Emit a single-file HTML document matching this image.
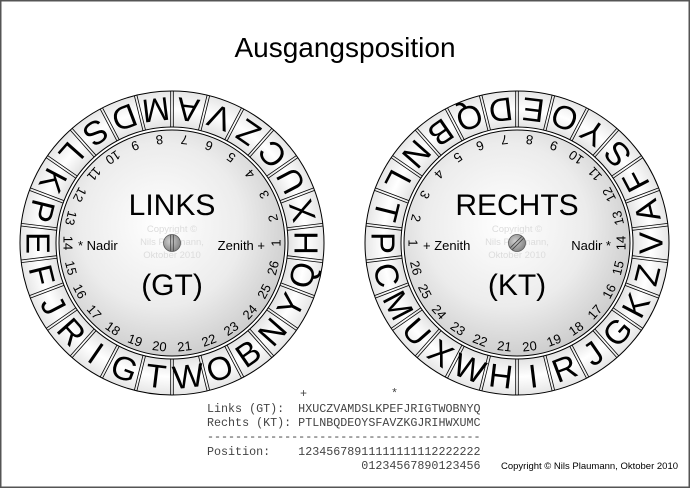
<!DOCTYPE html>
<html><head><meta charset="utf-8"><style>
html,body{margin:0;padding:0;background:#fff}
svg{display:block}
.L{font-family:"Liberation Sans",sans-serif;font-size:33px;fill:#000;text-anchor:middle;dominant-baseline:central}
.N{font-family:"Liberation Sans",sans-serif;font-size:13px;fill:#000;text-anchor:middle;dominant-baseline:central}
.S{font-family:"Liberation Sans",sans-serif;fill:#000}
.M{font-family:"Liberation Mono",monospace;font-size:11.7px;fill:#444;white-space:pre}
.C{font-family:"Liberation Sans",sans-serif;font-size:9.5px;fill:#dcdcdc;text-anchor:middle}
</style></head><body>
<svg width="690" height="488" viewBox="0 0 690 488" xmlns="http://www.w3.org/2000/svg">
<defs>
<radialGradient id="disc" cx="0.45" cy="0.42" r="0.6">
<stop offset="0" stop-color="#ffffff"/><stop offset="0.6" stop-color="#ececec"/><stop offset="1" stop-color="#cccccc"/></radialGradient>
<radialGradient id="ring" cx="0.5" cy="0.5" r="0.5">
<stop offset="0.76" stop-color="#e2e2e2"/><stop offset="0.88" stop-color="#ffffff"/><stop offset="1" stop-color="#e6e6e6"/></radialGradient>
<radialGradient id="screw" cx="0.4" cy="0.4" r="0.6">
<stop offset="0" stop-color="#d0d0d0"/><stop offset="1" stop-color="#888"/></radialGradient>
<g id="div" stroke="#000" stroke-width="0.8" fill="none">
<g transform="rotate(6.923)"><path d="M116 -1.3H152M116 1.3H152"/></g>
<g transform="rotate(20.769)"><path d="M116 -1.3H152M116 1.3H152"/></g>
<g transform="rotate(34.615)"><path d="M116 -1.3H152M116 1.3H152"/></g>
<g transform="rotate(48.462)"><path d="M116 -1.3H152M116 1.3H152"/></g>
<g transform="rotate(62.308)"><path d="M116 -1.3H152M116 1.3H152"/></g>
<g transform="rotate(76.154)"><path d="M116 -1.3H152M116 1.3H152"/></g>
<g transform="rotate(90)"><path d="M116 -1.3H152M116 1.3H152"/></g>
<g transform="rotate(103.846)"><path d="M116 -1.3H152M116 1.3H152"/></g>
<g transform="rotate(117.692)"><path d="M116 -1.3H152M116 1.3H152"/></g>
<g transform="rotate(131.538)"><path d="M116 -1.3H152M116 1.3H152"/></g>
<g transform="rotate(145.385)"><path d="M116 -1.3H152M116 1.3H152"/></g>
<g transform="rotate(159.231)"><path d="M116 -1.3H152M116 1.3H152"/></g>
<g transform="rotate(173.077)"><path d="M116 -1.3H152M116 1.3H152"/></g>
<g transform="rotate(186.923)"><path d="M116 -1.3H152M116 1.3H152"/></g>
<g transform="rotate(200.769)"><path d="M116 -1.3H152M116 1.3H152"/></g>
<g transform="rotate(214.615)"><path d="M116 -1.3H152M116 1.3H152"/></g>
<g transform="rotate(228.462)"><path d="M116 -1.3H152M116 1.3H152"/></g>
<g transform="rotate(242.308)"><path d="M116 -1.3H152M116 1.3H152"/></g>
<g transform="rotate(256.154)"><path d="M116 -1.3H152M116 1.3H152"/></g>
<g transform="rotate(270)"><path d="M116 -1.3H152M116 1.3H152"/></g>
<g transform="rotate(283.846)"><path d="M116 -1.3H152M116 1.3H152"/></g>
<g transform="rotate(297.692)"><path d="M116 -1.3H152M116 1.3H152"/></g>
<g transform="rotate(311.538)"><path d="M116 -1.3H152M116 1.3H152"/></g>
<g transform="rotate(325.385)"><path d="M116 -1.3H152M116 1.3H152"/></g>
<g transform="rotate(339.231)"><path d="M116 -1.3H152M116 1.3H152"/></g>
<g transform="rotate(353.077)"><path d="M116 -1.3H152M116 1.3H152"/></g>
</g>
<g id="base">
<circle r="152" fill="url(#ring)" stroke="#000" stroke-width="1"/>
<circle r="116" fill="#fff" stroke="#000" stroke-width="1"/>
<circle r="113" fill="url(#disc)" stroke="#000" stroke-width="1"/>
</g>
</defs>
<rect x="0.75" y="0.75" width="688.5" height="486.5" fill="#fff" stroke="#555" stroke-width="1.5"/>
<text x="345" y="57" class="S" font-size="28" text-anchor="middle">Ausgangsposition</text>

<!-- LEFT WHEEL -->
<g transform="translate(172,243)">
<use href="#base"/>
<use href="#div"/>
<text class="L" transform="rotate(0) translate(134 0) rotate(-90)">H</text>
<text class="L" transform="rotate(-13.846) translate(134 0) rotate(-90)">X</text>
<text class="L" transform="rotate(-27.692) translate(134 0) rotate(-90)">U</text>
<text class="L" transform="rotate(-41.538) translate(134 0) rotate(-90)">C</text>
<text class="L" transform="rotate(-55.385) translate(134 0) rotate(-90)">Z</text>
<text class="L" transform="rotate(-69.231) translate(134 0) rotate(-90)">V</text>
<text class="L" transform="rotate(-83.077) translate(134 0) rotate(-90)">A</text>
<text class="L" transform="rotate(-96.923) translate(134 0) rotate(-90)">M</text>
<text class="L" transform="rotate(-110.769) translate(134 0) rotate(-90)">D</text>
<text class="L" transform="rotate(-124.615) translate(134 0) rotate(-90)">S</text>
<text class="L" transform="rotate(-138.462) translate(134 0) rotate(-90)">L</text>
<text class="L" transform="rotate(-152.308) translate(134 0) rotate(-90)">K</text>
<text class="L" transform="rotate(-166.154) translate(134 0) rotate(-90)">P</text>
<text class="L" transform="rotate(-180) translate(134 0) rotate(-90)">E</text>
<text class="L" transform="rotate(-193.846) translate(134 0) rotate(-90)">F</text>
<text class="L" transform="rotate(-207.692) translate(134 0) rotate(-90)">J</text>
<text class="L" transform="rotate(-221.538) translate(134 0) rotate(-90)">R</text>
<text class="L" transform="rotate(-235.385) translate(134 0) rotate(-90)">I</text>
<text class="L" transform="rotate(-249.231) translate(134 0) rotate(-90)">G</text>
<text class="L" transform="rotate(-263.077) translate(134 0) rotate(-90)">T</text>
<text class="L" transform="rotate(-276.923) translate(134 0) rotate(-90)">W</text>
<text class="L" transform="rotate(-290.769) translate(134 0) rotate(-90)">O</text>
<text class="L" transform="rotate(-304.615) translate(134 0) rotate(-90)">B</text>
<text class="L" transform="rotate(-318.462) translate(134 0) rotate(-90)">N</text>
<text class="L" transform="rotate(-332.308) translate(134 0) rotate(-90)">Y</text>
<text class="L" transform="rotate(-346.154) translate(134 0) rotate(-90)">Q</text>

<text class="N" transform="rotate(0) translate(104 0) rotate(-90)">1</text>
<text class="N" transform="rotate(-13.846) translate(104 0) rotate(-90)">2</text>
<text class="N" transform="rotate(-27.692) translate(104 0) rotate(-90)">3</text>
<text class="N" transform="rotate(-41.538) translate(104 0) rotate(-90)">4</text>
<text class="N" transform="rotate(-55.385) translate(104 0) rotate(-90)">5</text>
<text class="N" transform="rotate(-69.231) translate(104 0) rotate(-90)">6</text>
<text class="N" transform="rotate(-83.077) translate(104 0) rotate(-90)">7</text>
<text class="N" transform="rotate(-96.923) translate(104 0) rotate(-90)">8</text>
<text class="N" transform="rotate(-110.769) translate(104 0) rotate(-90)">9</text>
<text class="N" transform="rotate(-124.615) translate(104 0) rotate(-90)">10</text>
<text class="N" transform="rotate(-138.462) translate(104 0) rotate(-90)">11</text>
<text class="N" transform="rotate(-152.308) translate(104 0) rotate(-90)">12</text>
<text class="N" transform="rotate(-166.154) translate(104 0) rotate(-90)">13</text>
<text class="N" transform="rotate(-180) translate(104 0) rotate(-90)">14</text>
<text class="N" transform="rotate(-193.846) translate(104 0) rotate(-90)">15</text>
<text class="N" transform="rotate(-207.692) translate(104 0) rotate(-90)">16</text>
<text class="N" transform="rotate(-221.538) translate(104 0) rotate(-90)">17</text>
<text class="N" transform="rotate(-235.385) translate(104 0) rotate(-90)">18</text>
<text class="N" transform="rotate(-249.231) translate(104 0) rotate(-90)">19</text>
<text class="N" transform="rotate(-263.077) translate(104 0) rotate(-90)">20</text>
<text class="N" transform="rotate(-276.923) translate(104 0) rotate(-90)">21</text>
<text class="N" transform="rotate(-290.769) translate(104 0) rotate(-90)">22</text>
<text class="N" transform="rotate(-304.615) translate(104 0) rotate(-90)">23</text>
<text class="N" transform="rotate(-318.462) translate(104 0) rotate(-90)">24</text>
<text class="N" transform="rotate(-332.308) translate(104 0) rotate(-90)">25</text>
<text class="N" transform="rotate(-346.154) translate(104 0) rotate(-90)">26</text>

<text class="C" x="0" y="-11">Copyright ©</text>
<text class="C" x="0" y="2">Nils Plaumann,</text>
<text class="C" x="0" y="15">Oktober 2010</text>
<text class="S" x="0" y="-28" font-size="30" text-anchor="middle">LINKS</text>
<text class="S" x="0" y="52" font-size="30" text-anchor="middle">(GT)</text>
<text class="S" x="-94" y="7" font-size="13">* Nadir</text>
<text class="S" x="93" y="7" font-size="13" text-anchor="end">Zenith +</text>
<circle r="8.5" fill="url(#screw)" stroke="#555" stroke-width="0.8"/>
<path d="M-1.3 -8V8M1.3 -8V8" stroke="#444" stroke-width="0.9"/>
</g>

<!-- RIGHT WHEEL -->
<g transform="translate(517,243)">
<use href="#base"/>
<use href="#div"/>
<text class="L" transform="rotate(180) translate(134 0) rotate(-90)">P</text>
<text class="L" transform="rotate(193.846) translate(134 0) rotate(-90)">T</text>
<text class="L" transform="rotate(207.692) translate(134 0) rotate(-90)">L</text>
<text class="L" transform="rotate(221.538) translate(134 0) rotate(-90)">N</text>
<text class="L" transform="rotate(235.385) translate(134 0) rotate(-90)">B</text>
<text class="L" transform="rotate(249.231) translate(134 0) rotate(-90)">Q</text>
<text class="L" transform="rotate(263.077) translate(134 0) rotate(-90)">D</text>
<text class="L" transform="rotate(276.923) translate(134 0) rotate(-90)">E</text>
<text class="L" transform="rotate(290.769) translate(134 0) rotate(-90)">O</text>
<text class="L" transform="rotate(304.615) translate(134 0) rotate(-90)">Y</text>
<text class="L" transform="rotate(318.462) translate(134 0) rotate(-90)">S</text>
<text class="L" transform="rotate(332.308) translate(134 0) rotate(-90)">F</text>
<text class="L" transform="rotate(346.154) translate(134 0) rotate(-90)">A</text>
<text class="L" transform="rotate(360) translate(134 0) rotate(-90)">V</text>
<text class="L" transform="rotate(373.846) translate(134 0) rotate(-90)">Z</text>
<text class="L" transform="rotate(387.692) translate(134 0) rotate(-90)">K</text>
<text class="L" transform="rotate(401.538) translate(134 0) rotate(-90)">G</text>
<text class="L" transform="rotate(415.385) translate(134 0) rotate(-90)">J</text>
<text class="L" transform="rotate(429.231) translate(134 0) rotate(-90)">R</text>
<text class="L" transform="rotate(443.077) translate(134 0) rotate(-90)">I</text>
<text class="L" transform="rotate(456.923) translate(134 0) rotate(-90)">H</text>
<text class="L" transform="rotate(470.769) translate(134 0) rotate(-90)">W</text>
<text class="L" transform="rotate(484.615) translate(134 0) rotate(-90)">X</text>
<text class="L" transform="rotate(498.462) translate(134 0) rotate(-90)">U</text>
<text class="L" transform="rotate(512.308) translate(134 0) rotate(-90)">M</text>
<text class="L" transform="rotate(526.154) translate(134 0) rotate(-90)">C</text>

<text class="N" transform="rotate(180) translate(104 0) rotate(-90)">1</text>
<text class="N" transform="rotate(193.846) translate(104 0) rotate(-90)">2</text>
<text class="N" transform="rotate(207.692) translate(104 0) rotate(-90)">3</text>
<text class="N" transform="rotate(221.538) translate(104 0) rotate(-90)">4</text>
<text class="N" transform="rotate(235.385) translate(104 0) rotate(-90)">5</text>
<text class="N" transform="rotate(249.231) translate(104 0) rotate(-90)">6</text>
<text class="N" transform="rotate(263.077) translate(104 0) rotate(-90)">7</text>
<text class="N" transform="rotate(276.923) translate(104 0) rotate(-90)">8</text>
<text class="N" transform="rotate(290.769) translate(104 0) rotate(-90)">9</text>
<text class="N" transform="rotate(304.615) translate(104 0) rotate(-90)">10</text>
<text class="N" transform="rotate(318.462) translate(104 0) rotate(-90)">11</text>
<text class="N" transform="rotate(332.308) translate(104 0) rotate(-90)">12</text>
<text class="N" transform="rotate(346.154) translate(104 0) rotate(-90)">13</text>
<text class="N" transform="rotate(360) translate(104 0) rotate(-90)">14</text>
<text class="N" transform="rotate(373.846) translate(104 0) rotate(-90)">15</text>
<text class="N" transform="rotate(387.692) translate(104 0) rotate(-90)">16</text>
<text class="N" transform="rotate(401.538) translate(104 0) rotate(-90)">17</text>
<text class="N" transform="rotate(415.385) translate(104 0) rotate(-90)">18</text>
<text class="N" transform="rotate(429.231) translate(104 0) rotate(-90)">19</text>
<text class="N" transform="rotate(443.077) translate(104 0) rotate(-90)">20</text>
<text class="N" transform="rotate(456.923) translate(104 0) rotate(-90)">21</text>
<text class="N" transform="rotate(470.769) translate(104 0) rotate(-90)">22</text>
<text class="N" transform="rotate(484.615) translate(104 0) rotate(-90)">23</text>
<text class="N" transform="rotate(498.462) translate(104 0) rotate(-90)">24</text>
<text class="N" transform="rotate(512.308) translate(104 0) rotate(-90)">25</text>
<text class="N" transform="rotate(526.154) translate(104 0) rotate(-90)">26</text>

<text class="C" x="0" y="-11">Copyright ©</text>
<text class="C" x="0" y="2">Nils Plaumann,</text>
<text class="C" x="0" y="15">Oktober 2010</text>
<text class="S" x="0" y="-28" font-size="30" text-anchor="middle">RECHTS</text>
<text class="S" x="0" y="52" font-size="30" text-anchor="middle">(KT)</text>
<text class="S" x="-94" y="7" font-size="13">+ Zenith</text>
<text class="S" x="94" y="7" font-size="13" text-anchor="end">Nadir *</text>
<circle r="8.5" fill="url(#screw)" stroke="#555" stroke-width="0.8"/>
<g transform="rotate(-45)"><path d="M-8 -1.3H8M-8 1.3H8" stroke="#444" stroke-width="0.9"/></g>
</g>

<!-- bottom table -->
<text class="M" x="300" y="397">+</text>
<text class="M" x="391" y="397">*</text>
<text class="M" x="207" y="412">Links (GT):  HXUCZVAMDSLKPEFJRIGTWOBNYQ</text>
<text class="M" x="207" y="426">Rechts (KT): PTLNBQDEOYSFAVZKGJRIHWXUMC</text>
<text class="M" x="207" y="440">---------------------------------------</text>
<text class="M" x="207" y="455">Position:    12345678911111111112222222</text>
<text class="M" x="207" y="469">                      01234567890123456</text>
<text class="S" x="501" y="469" font-size="9.5">Copyright © Nils Plaumann, Oktober 2010</text>
</svg>
</body></html>
